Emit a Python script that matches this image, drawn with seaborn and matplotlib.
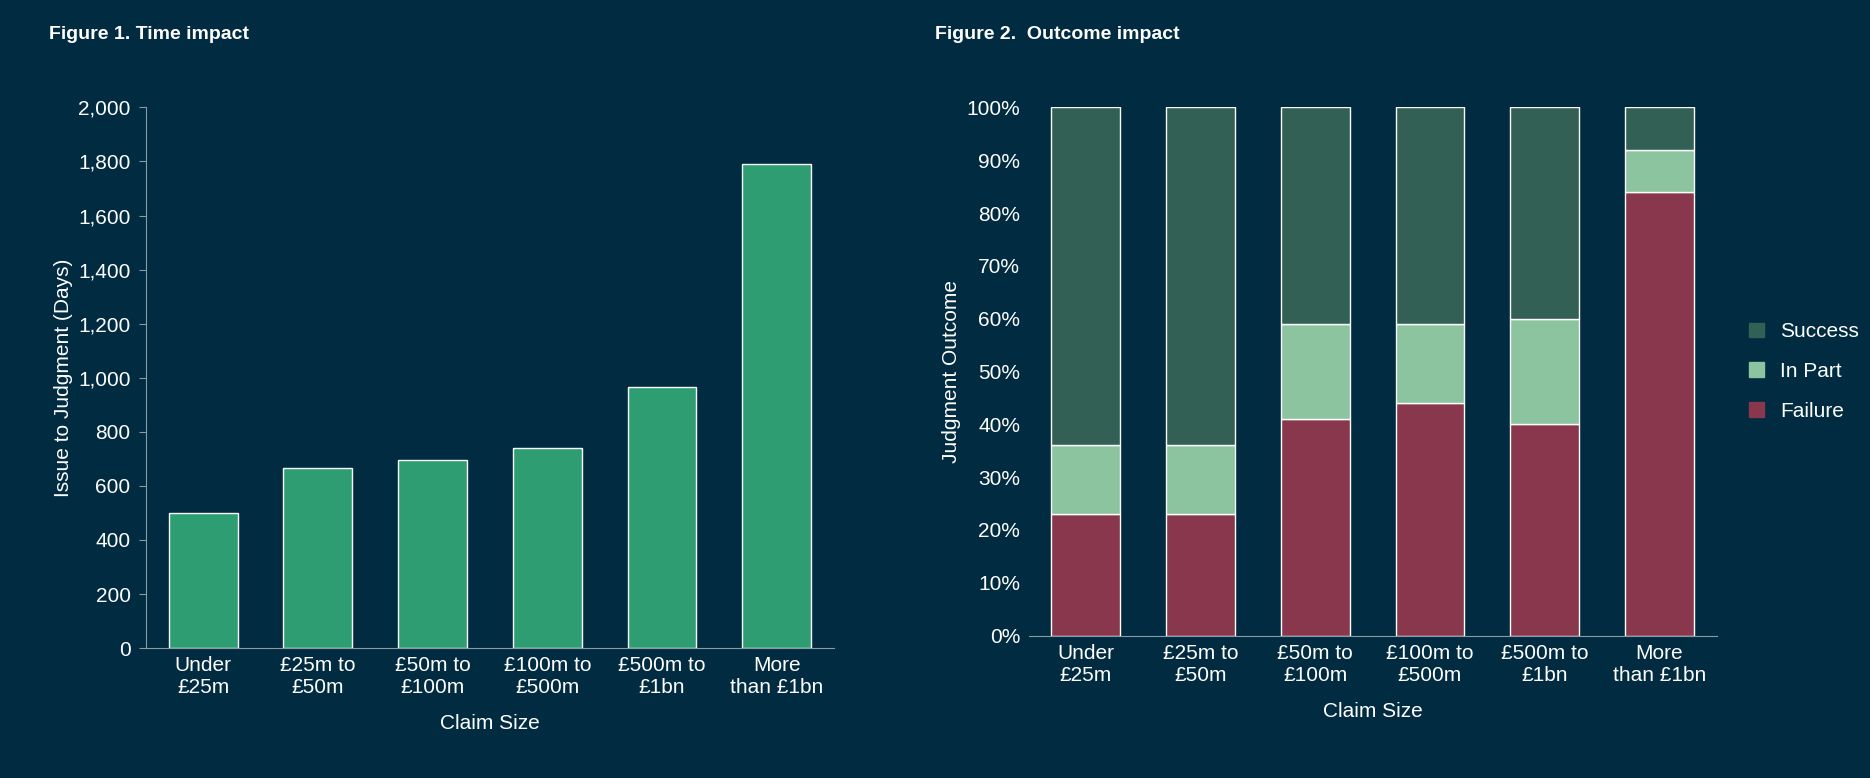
import numpy as np
import pandas as pd
import matplotlib
matplotlib.use("Agg")
import matplotlib.pyplot as plt
import seaborn as sns
from matplotlib.ticker import FuncFormatter
from matplotlib.patches import Patch

# data
categories = ["Under\n£25m", "£25m to\n£50m", "£50m to\n£100m", "£100m to\n£500m", "£500m to\n£1bn", "More\nthan £1bn"]
days = [500, 665, 695, 740, 965, 1790]
failure = [23, 23, 41, 44, 40, 84]
in_part = [13, 13, 18, 15, 20, 8]
success = [100 - f - p for f, p in zip(failure, in_part)]

BG = "#002b40"
FG = "white"
GREEN = "#2e9e72"
C_SUCCESS = "#336055"
C_INPART = "#8cc4a0"
C_FAIL = "#88374d"

sns.set_style("dark")
plt.rcParams.update({
    "font.family": ["Liberation Sans", "DejaVu Sans"],
    "axes.facecolor": BG, "figure.facecolor": BG,
    "text.color": FG, "axes.labelcolor": FG,
    "xtick.color": FG, "ytick.color": FG,
})

fig = plt.figure(figsize=(18.7, 7.78), dpi=100)
ax1 = fig.add_axes([0.078, 0.167, 0.368, 0.695])
ax2 = fig.add_axes([0.55, 0.183, 0.368, 0.679])

df = pd.DataFrame({"cat": categories, "days": days})
sns.barplot(data=df, x="cat", y="days", color=GREEN, saturation=1, width=0.6, ax=ax1)
ax1.set_ylim(0, 2000)
ax1.set_yticks(range(0, 2001, 200))
ax1.yaxis.set_major_formatter(FuncFormatter(lambda v, p: f"{int(v):,}"))
ax1.set_ylabel("Issue to Judgment (Days)", fontsize=15)
ax1.set_xlabel("Claim Size", fontsize=15, labelpad=12)

x = np.arange(len(categories))
bottom_p = np.array(failure)
bottom_s = bottom_p + np.array(in_part)
sns.barplot(x=categories, y=failure, color=C_FAIL, saturation=1, width=0.6, ax=ax2)
sns.barplot(x=categories, y=in_part, bottom=bottom_p, color=C_INPART, saturation=1, width=0.6, ax=ax2)
sns.barplot(x=categories, y=success, bottom=bottom_s, color=C_SUCCESS, saturation=1, width=0.6, ax=ax2)
ax2.set_ylim(0, 100)
ax2.set_yticks(range(0, 101, 10))
ax2.yaxis.set_major_formatter(FuncFormatter(lambda v, p: f"{int(v)}%"))
ax2.set_ylabel("Judgment Outcome", fontsize=15)
ax2.set_xlabel("Claim Size", fontsize=15, labelpad=12)
handles = [Patch(color=C_SUCCESS, label="Success"), Patch(color=C_INPART, label="In Part"),
           Patch(color=C_FAIL, label="Failure")]
ax2.legend(handles=handles, loc="center left", bbox_to_anchor=(1.02, 0.5), frameon=False,
           fontsize=15, handlelength=0.7, handleheight=0.7, labelspacing=1.0, labelcolor=FG)

for ax in (ax1, ax2):
    ax.tick_params(labelsize=15, length=0, pad=6)
    ax.grid(False)
    for s in ("top", "right"):
        ax.spines[s].set_visible(False)
    ax.spines["left"].set_visible(False)
    ax.spines["bottom"].set_color("#8a9aa5")
    ax.tick_params(axis="x", length=0)

ax1.spines["left"].set_visible(True)
ax1.spines["left"].set_color("#8a9aa5")
ax1.tick_params(axis="y", length=5, color="#8a9aa5", direction="out", left=True)
ax1.spines["bottom"].set_visible(True)

fig.text(0.026, 0.95, "Figure 1. Time impact", fontsize=14, fontweight="bold", color=FG)
fig.text(0.5, 0.95, "Figure 2.  Outcome impact", fontsize=14, fontweight="bold", color=FG)

fig.savefig("out.png", dpi=100, facecolor=BG)
